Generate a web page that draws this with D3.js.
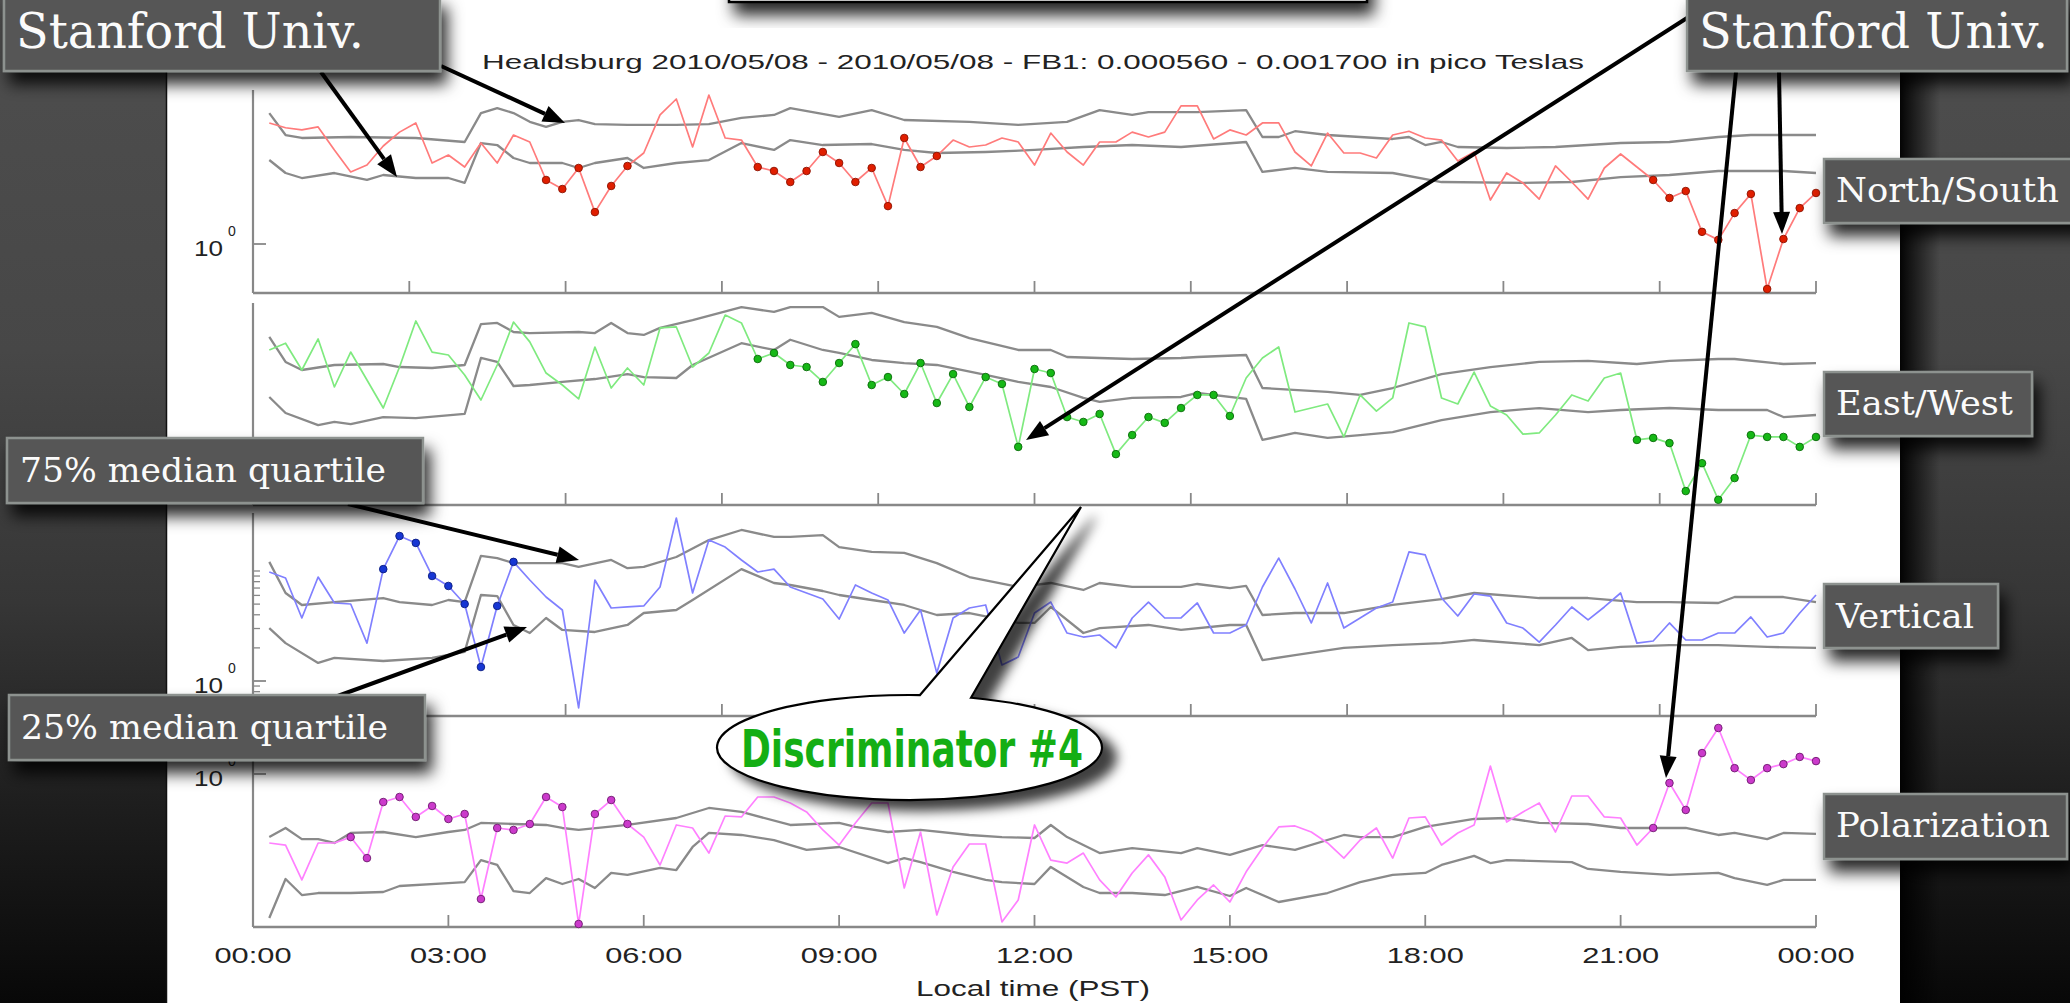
<!DOCTYPE html>
<html><head><meta charset="utf-8">
<script src="https://cdn.jsdelivr.net/npm/d3@7"></script>
<style>html,body{margin:0;padding:0;background:#000;overflow:hidden}</style>
</head><body>
<svg id="c" width="2070" height="1003"></svg>
<script>
// ---------------- DATA ----------------
const titleText = "Healdsburg 2010/05/08 - 2010/05/08 - FB1: 0.000560 - 0.001700 in pico Teslas";
const xAxisTitle = "Local time (PST)";
const xTickHours = [0, 3, 6, 9, 12, 15, 18, 21, 24];
const xTickLabels = ["00:00","03:00","06:00","09:00","12:00","15:00","18:00","21:00","00:00"];
const upperTickHours = [0, 2.4, 4.8, 7.2, 9.6, 12, 14.4, 16.8, 19.2, 21.6, 24];
const panelNames = ["North/South", "East/West", "Vertical", "Polarization"];

// sample times (hours), every 15 minutes from 00:15 to 24:00
const times = [
 0.25,0.5,0.75,1,1.25,1.5,1.75,2, 2.25,2.5,2.75,3,3.25,3.5,3.75,4,
 4.25,4.5,4.75,5,5.25,5.5,5.75,6, 6.25,6.5,6.75,7,7.25,7.5,7.75,8,
 8.25,8.5,8.75,9,9.25,9.5,9.75,10, 10.25,10.5,10.75,11,11.25,11.5,11.75,12,
 12.25,12.5,12.75,13,13.25,13.5,13.75,14, 14.25,14.5,14.75,15,15.25,15.5,15.75,16,
 16.25,16.5,16.75,17,17.25,17.5,17.75,18, 18.25,18.5,18.75,19,19.25,19.5,19.75,20,
 20.25,20.5,20.75,21,21.25,21.5,21.75,22, 22.25,22.5,22.75,23,23.25,23.5,23.75,24];

// field values (pico Tesla)
const northSouth = [
 12.6,11.4,10.9,11.6,7.16,4.52,5.22,7.78, 10.4,12.6,5.45,6.44,5.01,8.28,5.45,9.79,
 8.46,3.82,3.16,4.91,1.95,3.37,5.12,6.72, 14.9,20.8,7.62,22.6,9.2,8.81,5.01,4.61,
 3.66,4.61,6.86,5.45,3.66,4.91,2.21,9.2, 5.01,6.31,8.81,7.62,7.94,9.2,8.46,5.22,
 10.2,6.86,5.22,8.46,8.46,10.4,9.39,10.4, 18.0,18.0,9.01,10.9,9.79,12.6,12.6,6.86,
 5.12,10.2,6.72,6.72,6.05,9.79,10.6,9.2, 8.81,5.68,6.86,2.51,4.42,3.59,2.56,5.12,
 3.66,2.56,4.91,6.58,5.01,3.82,2.62,3.03, 1.29,1.09,1.91,2.85,0.39,1.11,2.12,2.91];
const eastWest = [
 9.2,10.6,6.05,11.6,4.24,8.81,4.91,2.73, 6.44,16.9,8.81,8.28,5.45,3.23,6.72,16.5,
 10.9,5.68,4.42,3.30,9.79,4.15,6.31,4.42, 14.6,14.9,6.44,8.64,19.1,16.2,7.62,8.64,
 6.72,6.44,4.71,7.0,10.4,4.42,5.22,3.66, 7.0,3.03,5.56,2.79,5.22,4.52,1.21,6.18,
 5.68,2.26,2.04,2.41,1.04,1.55,2.26,2.0, 2.73,3.59,3.59,2.31,5.12,7.78,9.79,2.51,
 2.73,2.97,1.49,3.59,2.56,3.37,16.2,14.9, 3.37,2.97,5.80,2.85,2.36,1.58,1.62,2.36,
 3.59,3.16,5.12,5.68,1.40,1.46,1.31,0.48, 0.86,0.40,0.63,1.55,1.49,1.49,1.21,1.49];
const vertical = [
 9.79,8.64,3.74,8.81,5.12,5.01,2.21,10.4, 20.8,18.0,9.01,7.31,5.01,1.34,4.81,12.1,
 8.28,5.80,4.42,0.57,8.28,4.61,4.71,4.81, 7.16,30.3,6.31,19.1,16.5,12.6,9.79,10.4,
 7.16,6.31,5.56,3.66,7.46,6.31,5.45,2.73, 4.42,1.18,3.74,4.61,4.91,1.40,1.65,4.15,
 5.22,2.73,2.51,2.62,2.0,3.74,5.22,3.74, 3.74,5.12,2.73,2.73,3.23,7.16,13.1,6.86,
 3.37,7.78,3.03,3.74,4.61,5.22,14.9,14.0, 5.68,3.90,6.18,5.92,3.37,3.03,2.26,3.23,
 4.71,3.59,4.71,6.31,2.21,2.31,3.37,2.36, 2.36,2.73,2.73,3.82,2.51,2.73,4.15,6.05];
const polarization = [
 0.236,0.226,0.109,0.236,0.236,0.267,0.172,0.556, 0.618,0.407,0.512,0.390,0.433,0.073,0.323,0.310,
 0.351,0.618,0.501,0.0433,0.433,0.580,0.351,0.267, 0.149,0.344,0.323,0.191,0.415,0.407,0.618,0.618,
 0.545,0.452,0.310,0.226,0.359,0.545,0.545,0.092, 0.297,0.0523,0.143,0.231,0.231,0.0452,0.0716,0.344,
 0.165,0.155,0.191,0.109,0.0762,0.126,0.184,0.116, 0.0471,0.0716,0.098,0.0686,0.129,0.212,0.330,0.337,
 0.297,0.236,0.172,0.251,0.323,0.172,0.398,0.407, 0.226,0.291,0.344,1.18,0.366,0.452,0.545,0.297,
 0.631,0.631,0.407,0.398,0.226,0.323,0.828,0.471, 1.55,2.62,1.13,0.882,1.13,1.23,1.43,1.31];

// flagged (dotted) time ranges per series
const northSouthFlags = [[4.5,5.75],[7.75,10.5],[21.5,24]];
const eastWestFlags = [[7.75,15],[21.25,24]];
const verticalFlags = [[2,4]];
const polarizationFlags = [[1.5,5.75],[21.5,24]];

// 75% / 25% median quartiles: [hour, value]
const nsQ75 = [[0.25,15.5],[0.5,9.79],[0.75,9.2],[1.5,9.39],[2.5,9.2],[3.25,8.46],[3.5,15.5],[3.75,17.2],[4,15.5],[4.25,12.9],[4.5,11.6],[4.75,12.9],[5,13.4],[5.25,12.3],[5.75,12.1],[6.5,12.1],[7,12.3],[7.5,14.0],[8,14.9],[8.25,17.2],[9,14.3],[9.5,16.5],[10,13.4],[11,12.9],[11.75,12.1],[12.5,12.9],[13,16.5],[13.5,14.9],[13.75,15.8],[14.5,15.8],[15.25,16.5],[15.5,9.39],[15.75,9.39],[16,10.6],[16.5,9.79],[17,9.39],[17.5,9.01],[17.75,9.39],[18,7.94],[18.25,8.46],[18.5,7.62],[19.25,7.46],[20,7.62],[21,8.28],[21.75,8.46],[22.5,9.39],[23,9.79],[24,9.79]];
const nsQ25 = [[0.25,5.80],[0.5,4.42],[0.75,3.98],[1.25,4.42],[1.75,3.82],[2,4.24],[2.5,3.98],[3,3.98],[3.25,3.59],[3.5,8.28],[3.75,7.94],[4,6.05],[4.25,5.45],[4.75,5.45],[5,4.91],[5.25,5.45],[5.75,6.05],[6,4.91],[6.5,5.45],[7,5.80],[7.5,8.28],[8,7.16],[8.25,8.81],[8.75,7.94],[9.5,8.11],[10,7.16],[10.5,6.72],[11.25,6.86],[12,7.16],[12.75,7.62],[13.5,7.94],[14.25,7.62],[15.25,8.46],[15.5,4.52],[16,4.91],[16.5,4.52],[17.5,4.42],[18.25,3.66],[19.5,3.59],[20.25,3.66],[21,4.06],[21.75,4.24],[22.5,4.61],[23.5,4.61],[24,4.42]];
const ewQ75 = [[0.25,12.1],[0.5,7.16],[0.75,6.05],[1.25,6.72],[2,6.86],[2.25,6.44],[2.75,6.31],[3.25,6.72],[3.5,15.8],[3.75,16.2],[4,13.4],[4.25,13.1],[5,13.4],[5.25,13.1],[5.5,16.2],[5.75,13.1],[6,12.6],[6.25,14.6],[6.75,17.2],[7.5,22.6],[8,20.4],[8.25,22.6],[8.75,22.6],[9,18.4],[9.5,20.0],[10,16.5],[10.5,14.9],[11,11.8],[11.75,9.2],[12.25,9.2],[12.5,7.94],[13.5,7.62],[14.25,7.78],[14.5,7.94],[15.25,8.28],[15.5,4.15],[16.5,3.82],[17,3.59],[17.5,4.15],[18.25,5.56],[19,6.44],[19.75,7.16],[20.5,7.31],[21.25,6.86],[21.75,7.31],[22.5,7.62],[22.75,7.62],[23.5,6.86],[24,7.0]];
const ewQ25 = [[0.25,3.44],[0.5,2.46],[1,1.91],[1.25,2.04],[1.5,1.95],[2,2.26],[2.5,2.21],[3.25,2.41],[3.5,7.78],[3.75,7.16],[4,4.33],[4.25,4.42],[4.75,4.71],[5.25,5.01],[5.75,5.56],[6,5.22],[6.5,5.12],[6.75,6.72],[7.5,10.6],[8,9.2],[8.25,11.4],[8.75,9.2],[9,8.64],[9.5,7.46],[10,7.0],[10.5,6.72],[11.25,5.45],[11.75,4.71],[12.25,4.24],[12.75,3.37],[13,3.10],[13.5,3.37],[14.25,3.44],[14.5,3.74],[15.25,3.30],[15.5,1.40],[16,1.62],[16.5,1.46],[17,1.55],[17.5,1.65],[18.25,2.12],[19,2.51],[19.75,2.73],[20.5,2.51],[21,2.62],[21.75,2.73],[22.5,2.62],[23.25,2.62],[23.5,2.26],[24,2.36]];
const vQ75 = [[0.25,12.1],[0.5,6.31],[0.75,4.91],[1.25,5.22],[2,5.68],[2.25,5.22],[2.75,4.91],[3,5.45],[3.25,5.22],[3.5,13.7],[3.75,13.1],[4,11.8],[4.25,11.8],[4.75,11.8],[5,10.9],[5.5,12.6],[5.75,10.6],[6,10.9],[6.5,13.4],[7,19.1],[7.5,23.6],[8,20.4],[8.25,20.4],[8.75,21.2],[9,16.5],[9.5,14.9],[10,14.6],[10.5,11.8],[11,8.81],[11.75,7.16],[12.25,7.78],[12.75,6.72],[13,7.78],[13.5,7.16],[14.25,7.16],[14.5,7.62],[15,7.0],[15.25,7.31],[15.5,3.98],[16,4.15],[16.75,4.15],[17.5,4.91],[18.25,5.56],[18.75,6.31],[19.75,5.68],[20.5,5.68],[21.25,5.22],[21.75,5.22],[22.5,5.12],[22.75,5.80],[23.5,5.80],[24,5.22]];
const vQ25 = [[0.25,3.03],[0.5,2.21],[1,1.46],[1.25,1.62],[2,1.52],[2.75,1.62],[3.25,1.84],[3.5,6.05],[3.75,5.92],[4,3.23],[4.25,2.73],[4.5,3.74],[4.75,2.91],[5.25,2.79],[5.75,3.23],[6,4.15],[6.5,4.42],[6.75,5.45],[7.5,10.4],[8,7.78],[8.25,7.46],[8.75,6.58],[9,6.05],[9.5,5.45],[10,4.91],[10.5,3.98],[11,4.15],[11.75,3.37],[12,3.37],[12.25,4.71],[12.75,2.73],[13,3.03],[13.75,3.23],[14.25,2.91],[15,3.23],[15.25,3.23],[15.5,1.55],[16,1.72],[16.75,2.0],[17.5,2.12],[18.25,2.21],[18.75,2.36],[19.75,2.12],[20.25,2.46],[20.5,1.91],[21,2.04],[21.75,2.12],[22.5,2.12],[23.25,2.04],[24,2.0]];
const polQ75 = [[0.25,0.267],[0.5,0.323],[0.75,0.256],[1,0.256],[1.25,0.236],[1.5,0.291],[2,0.297],[2.5,0.267],[3,0.297],[3.25,0.310],[3.5,0.359],[4,0.351],[4.5,0.344],[4.75,0.323],[5,0.310],[5.75,0.344],[6.5,0.398],[7,0.491],[7.5,0.452],[8.25,0.344],[9,0.359],[9.25,0.330],[9.75,0.297],[10.25,0.310],[11,0.279],[11.5,0.267],[12,0.262],[12.25,0.344],[12.5,0.267],[13,0.191],[13.5,0.212],[14.25,0.191],[14.5,0.212],[15,0.184],[15.5,0.226],[16,0.204],[16.75,0.279],[17,0.267],[17.5,0.267],[18,0.330],[18.75,0.390],[19.25,0.398],[19.75,0.359],[20.5,0.351],[21,0.323],[22,0.323],[22.5,0.279],[22.75,0.291],[23.25,0.256],[23.5,0.291],[24,0.285]];
const polQ25 = [[0.25,0.0491],[0.5,0.111],[0.75,0.0794],[1,0.0828],[1.5,0.0828],[2,0.0846],[2.25,0.0959],[3,0.102],[3.25,0.104],[3.5,0.165],[3.75,0.149],[4,0.0863],[4.25,0.0828],[4.5,0.113],[4.75,0.100],[5,0.111],[5.25,0.092],[5.5,0.126],[5.75,0.121],[6.25,0.140],[6.5,0.134],[6.75,0.217],[7,0.291],[7.5,0.279],[8,0.251],[8.5,0.204],[9,0.217],[9.75,0.155],[10,0.172],[10.25,0.158],[10.75,0.129],[11.25,0.109],[11.5,0.104],[12,0.100],[12.25,0.143],[12.75,0.094],[13,0.0828],[13.5,0.0828],[14,0.0794],[14.5,0.094],[15,0.0778],[15.25,0.092],[15.75,0.0686],[16.5,0.0828],[17,0.104],[17.5,0.121],[18,0.126],[18.25,0.149],[18.75,0.180],[19,0.155],[19.25,0.165],[20.25,0.158],[20.5,0.137],[21,0.129],[21.75,0.121],[22.5,0.126],[22.75,0.113],[23.25,0.098],[23.5,0.109],[24,0.109]];

// ---------------- LAYOUT ----------------
const W = 2070, H = 1003;
const PX0 = 253, PX1 = 1816, DECADE = 110;
const panels = [
  {top: 90,  bottom: 293, unit: 244, values: northSouth,   flags: northSouthFlags,   q75: nsQ75,  q25: nsQ25,  line: "#ff7b7b", dot: "#e01e00", dotStroke: "#8c1200", label: true,  minor: false},
  {top: 303, bottom: 505, unit: 456, values: eastWest,     flags: eastWestFlags,     q75: ewQ75,  q25: ewQ25,  line: "#7fea7f", dot: "#16b816", dotStroke: "#0a6a0a", label: false, minor: false},
  {top: 513, bottom: 716, unit: 681, values: vertical,     flags: verticalFlags,     q75: vQ75,   q25: vQ25,   line: "#8080ff", dot: "#1736d4", dotStroke: "#0b1d80", label: true,  minor: true},
  {top: 722, bottom: 927, unit: 774, values: polarization, flags: polarizationFlags, q75: polQ75, q25: polQ25, line: "#ff80ff", dot: "#cb3acb", dotStroke: "#6e1a6e", label: true,  minor: false}
];

const svg = d3.select("#c");
const defs = svg.append("defs");

// background gradient
const bg = defs.append("linearGradient").attr("id","bg").attr("x1",0).attr("y1",0).attr("x2",0).attr("y2",1);
[[0,"#4e4e4e"],[0.35,"#474747"],[0.6,"#363636"],[0.8,"#1e1e1e"],[1,"#080808"]].forEach(s=>bg.append("stop").attr("offset",s[0]).attr("stop-color",s[1]));
const rs = defs.append("linearGradient").attr("id","rshadow").attr("x1",0).attr("y1",0).attr("x2",1).attr("y2",0);
rs.append("stop").attr("offset",0).attr("stop-color","#000").attr("stop-opacity",0.95);
rs.append("stop").attr("offset",1).attr("stop-color","#000").attr("stop-opacity",0);

const f1 = defs.append("filter").attr("id","sh").attr("x","-20%").attr("y","-30%").attr("width","150%").attr("height","190%");
f1.append("feDropShadow").attr("dx",6).attr("dy",12).attr("stdDeviation",8).attr("flood-color","#000").attr("flood-opacity",0.85);
const f2 = defs.append("filter").attr("id","sh2").attr("x","-20%").attr("y","-30%").attr("width","150%").attr("height","170%");
f2.append("feDropShadow").attr("dx",14).attr("dy",10).attr("stdDeviation",6).attr("flood-color","#000").attr("flood-opacity",0.75);
const f3 = defs.append("filter").attr("id","soft").attr("x","-5%").attr("y","-20%").attr("width","110%").attr("height","140%");
f3.append("feGaussianBlur").attr("stdDeviation",0.5);

svg.append("rect").attr("width",W).attr("height",H).attr("fill","url(#bg)");
// paper
svg.append("rect").attr("x",1900).attr("y",0).attr("width",40).attr("height",H).attr("fill","url(#rshadow)");
svg.append("rect").attr("x",167).attr("y",0).attr("width",1733).attr("height",H).attr("fill","#fff");
svg.append("line").attr("x1",166.5).attr("x2",166.5).attr("y1",0).attr("y2",H).attr("stroke","#111").attr("stroke-width",1.5);

// top clipped box
svg.append("rect").attr("x",729).attr("y",-40).attr("width",638).attr("height",42)
  .attr("fill","#fff").attr("stroke","#000").attr("stroke-width",2.5).attr("filter","url(#sh)");

const chartFont = "'Liberation Sans', Arial, Helvetica, sans-serif";
const x = d3.scaleLinear().domain([0,24]).range([PX0, PX1]);

// title
svg.append("text").attr("x",482).attr("y",69).attr("font-family",chartFont).attr("font-size",21)
  .attr("fill","#222").attr("textLength",1102).attr("lengthAdjust","spacingAndGlyphs").text(titleText);

const g = svg.append("g");
const axisColor = "#888";

panels.forEach((p, pi) => {
  const y = d3.scaleLog().domain([1,10]).range([p.unit, p.unit - DECADE]);
  y.domain([y.invert(p.bottom), y.invert(p.top)]).range([p.bottom, p.top]);
  p.y = y;
  const pg = g.append("g");
  // axes
  pg.append("line").attr("x1",PX0).attr("x2",PX0).attr("y1",p.top).attr("y2",p.bottom).attr("stroke",axisColor).attr("stroke-width",2.2);
  pg.append("line").attr("x1",PX0).attr("x2",PX1).attr("y1",p.bottom).attr("y2",p.bottom).attr("stroke",axisColor).attr("stroke-width",2.4);
  const tv = pi === 3 ? xTickHours : upperTickHours;
  pg.selectAll("line.xt").data(tv).join("line").attr("class","xt")
    .attr("x1",d=>x(d)).attr("x2",d=>x(d)).attr("y1",p.bottom).attr("y2",p.bottom-12)
    .attr("stroke",axisColor).attr("stroke-width",1.8);
  // y ticks
  if (p.label) {
    pg.append("line").attr("x1",PX0).attr("x2",PX0+13).attr("y1",y(1)).attr("y2",y(1)).attr("stroke",axisColor).attr("stroke-width",1.8);
    pg.append("text").attr("x",194).attr("y",y(1)+12).attr("font-family",chartFont).attr("font-size",22)
      .attr("fill","#222").attr("textLength",29).attr("lengthAdjust","spacingAndGlyphs").text("10");
    pg.append("text").attr("x",228).attr("y",y(1)-8).attr("font-family",chartFont).attr("font-size",14)
      .attr("fill","#222").text("0");
  }
  if (p.minor) {
    const mt = y.ticks().filter(v => v >= 0.5 && v <= 10 && v !== 1);
    pg.selectAll("line.ym").data(mt).join("line").attr("class","ym")
      .attr("x1",PX0).attr("x2",PX0+7).attr("y1",d=>y(d)).attr("y2",d=>y(d))
      .attr("stroke",axisColor).attr("stroke-width",1.3);
  }
  // quartile lines
  const ln = d3.line().x(d=>x(d[0])).y(d=>y(d[1]));
  [p.q75, p.q25].forEach(q => {
    pg.append("path").attr("d",ln(q)).attr("fill","none").attr("stroke","#8a8a8a")
      .attr("stroke-width",2.3).attr("stroke-linejoin","round").attr("filter","url(#soft)");
  });
  // series
  const pts = times.map((t,i)=>[t, p.values[i]]);
  pg.append("path").attr("d",ln(pts)).attr("fill","none").attr("stroke",p.line)
    .attr("stroke-width",1.7).attr("stroke-linejoin","round");
  const flagged = pts.filter(d => p.flags.some(r => d[0] >= r[0] - 1e-9 && d[0] <= r[1] + 1e-9));
  pg.selectAll("circle").data(flagged).join("circle")
    .attr("cx",d=>x(d[0])).attr("cy",d=>y(d[1])).attr("r",3.8)
    .attr("fill",p.dot).attr("stroke",p.dotStroke).attr("stroke-width",0.9);
});

// x tick labels & axis title
const p4 = panels[3];
g.selectAll("text.xl").data(xTickHours).join("text").attr("class","xl")
  .attr("x",d=>x(d)-38.5).attr("y",963).attr("font-family",chartFont).attr("font-size",22)
  .attr("fill","#222").attr("textLength",77).attr("lengthAdjust","spacingAndGlyphs")
  .text((d,i)=>xTickLabels[i]);
svg.append("text").attr("x",916).attr("y",996).attr("font-family",chartFont).attr("font-size",22)
  .attr("fill","#222").attr("textLength",234).attr("lengthAdjust","spacingAndGlyphs").text(xAxisTitle);

// ---------------- ANNOTATIONS ----------------
function arrow(x1,y1,x2,y2){
  const a = Math.atan2(y2-y1, x2-x1), L = 22, hw = 8.5;
  const bx = x2 - L*Math.cos(a), by = y2 - L*Math.sin(a);
  svg.append("line").attr("x1",x1).attr("y1",y1).attr("x2",bx).attr("y2",by)
    .attr("stroke","#000").attr("stroke-width",4);
  const px = -Math.sin(a)*hw, py = Math.cos(a)*hw;
  svg.append("path").attr("d",`M${x2},${y2}L${bx+px},${by+py}L${bx-px},${by-py}Z`).attr("fill","#000");
}
arrow(441,66,565,123);
arrow(321,72,397,177);
arrow(1687,18,1026,440);
arrow(1736,72,1666,778);
arrow(1779,72,1782,234);
arrow(348,504,579,560);
arrow(335,697,527,627);

// speech bubble
const bcx = 909.5, bcy = 747.5, brx = 192.5, bry = 52.5;
function ey(xx){ const dx=(xx-bcx)/brx; return bcy - bry*Math.sqrt(1-dx*dx); }
const bl = 920, br = 971;
svg.append("path")
  .attr("d",`M${bl},${ey(bl)}L1081,507L${br},${ey(br)}A${brx},${bry} 0 1 1 ${bl},${ey(bl)}Z`)
  .attr("fill","#fff").attr("stroke","#000").attr("stroke-width",2.2).attr("filter","url(#sh2)");
svg.append("text").attr("x",741).attr("y",767).attr("font-family","'DejaVu Sans', sans-serif")
  .attr("font-weight","bold").attr("font-size",52).attr("fill","#14ae14")
  .attr("textLength",342).attr("lengthAdjust","spacingAndGlyphs").text("Discriminator #4");

// labelled boxes
const boxFont = "'DejaVu Serif', 'Liberation Serif', serif";
function box(bx,by,bw,bh,txt,tx,ty,fs,tw){
  svg.append("rect").attr("x",bx).attr("y",by).attr("width",bw).attr("height",bh)
    .attr("fill","#575757").attr("stroke","#8d928f").attr("stroke-width",2.5).attr("filter","url(#sh)");
  svg.append("text").attr("x",tx).attr("y",ty).attr("font-family",boxFont).attr("font-size",fs)
    .attr("fill","#fbfbfb").attr("textLength",tw).attr("lengthAdjust","spacingAndGlyphs").text(txt);
}
box(4,-4,436,75,"Stanford Univ.",16,48,48,348);
box(1687,-4,380,75,"Stanford Univ.",1699,48,48,349);
box(1824,159,260,64,panelNames[0],1836,202,33,223);
box(1824,372,208,64,panelNames[1],1836,415,33,177);
box(1824,584,174,64,panelNames[2],1836,628,33,138);
box(1824,794,243,65,panelNames[3],1836,837,33,214);
box(7,438,416,65,"75% median quartile",20,482,33,366);
box(9,695,416,65,"25% median quartile",21,739,33,367);
</script>
</body></html>
